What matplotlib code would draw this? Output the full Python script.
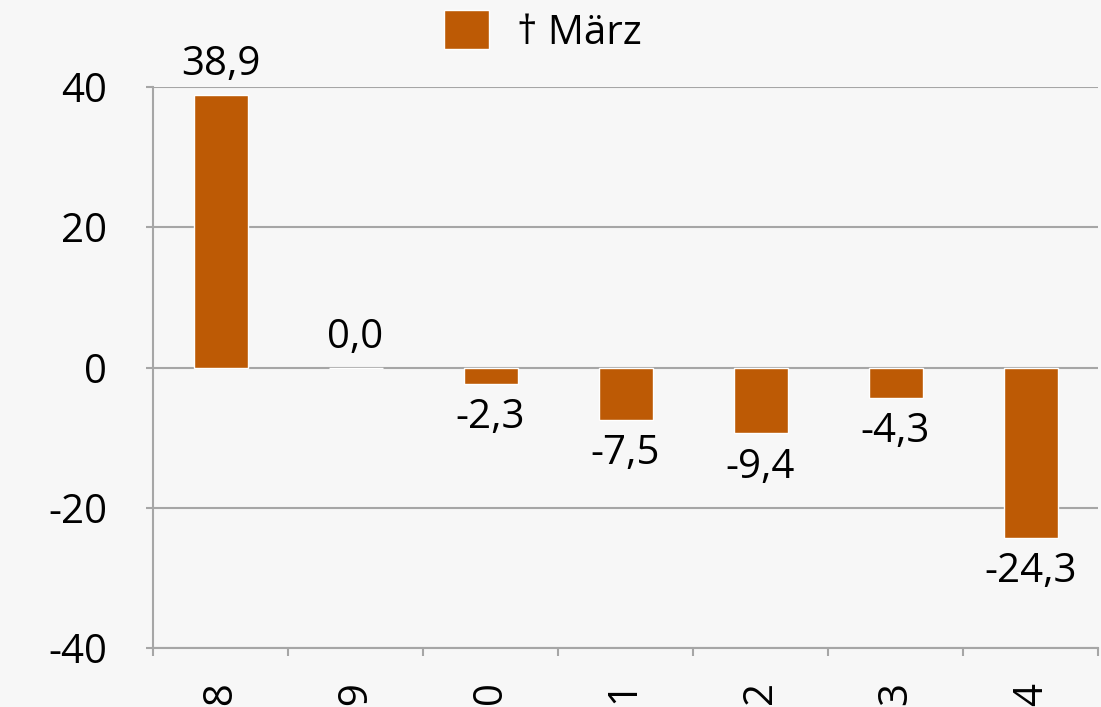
import matplotlib
matplotlib.use("Agg")
import matplotlib.pyplot as plt
import numpy as np

years = ["2008", "2009", "2010", "2011", "2012", "2013", "2014"]
values = [38.9, 0.0, -2.3, -7.5, -9.4, -4.3, -24.3]
series_name = "\u2020 März"
yticks = [-40, -20, 0, 20, 40]

bar_color = "#BD5A05"
bg = "#F7F7F7"
grid_color = "#A6A6A6"
fs = 29

plt.rcParams["font.family"] = ["Open Sans", "DejaVu Sans"]

fig = plt.figure(figsize=(11.01, 7.07), dpi=100, facecolor=bg)
ax = fig.add_axes([153 / 1101, 59 / 707, 945 / 1101, 561 / 707])
ax.set_facecolor(bg)

x = np.arange(len(years))
bars = ax.bar(x, values, width=0.4, color=bar_color, edgecolor="white",
              linewidth=1, label=series_name, zorder=3)

ax.set_xlim(-0.5, len(years) - 0.5)
ax.set_ylim(-40, 40)
ax.set_yticks(yticks)
ax.set_yticklabels([str(t) for t in yticks], fontsize=fs)
ax.yaxis.grid(True, color=grid_color, linewidth=1.5, zorder=0)
ax.tick_params(axis="y", length=5, width=1.5, color=grid_color, pad=28)

ax.set_xticks(np.arange(len(years) + 1) - 0.5, minor=True)
ax.set_xticks(x)
ax.set_xticklabels(years, rotation=90, fontsize=fs, va="top")
ax.tick_params(axis="x", which="major", length=0, pad=24)
ax.tick_params(axis="x", which="minor", length=6, width=1.5, color=grid_color)

for side in ["top", "right"]:
    ax.spines[side].set_visible(False)
for side in ["left", "bottom"]:
    ax.spines[side].set_color(grid_color)
    ax.spines[side].set_linewidth(1.5)

# value labels: above positive/zero bars, below negative ones
for xi, v in zip(x, values):
    label = f"{v:.1f}".replace(".", ",")
    if v >= 0:
        ax.annotate(label, (xi, v), xytext=(0, 7), textcoords="offset points",
                    ha="center", va="bottom", fontsize=fs)
    else:
        ax.annotate(label, (xi, v), xytext=(0, -10), textcoords="offset points",
                    ha="center", va="top", fontsize=fs)

leg = fig.legend(loc="center", bbox_to_anchor=(543 / 1101, 1 - 32 / 707),
                 frameon=False, fontsize=fs, handlelength=1.1, handleheight=1.1,
                 handletextpad=0.7, borderaxespad=0)

fig.savefig("out.png", dpi=100, facecolor=bg)
